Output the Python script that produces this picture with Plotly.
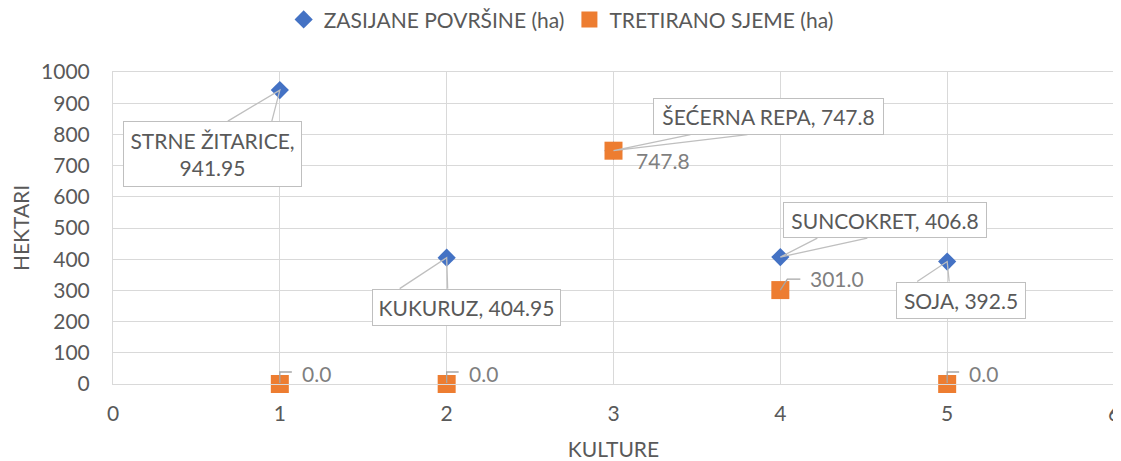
import plotly.graph_objects as go

# ---- data ----
categories = ["STRNE ŽITARICE", "KUKURUZ", "ŠEĆERNA REPA", "SUNCOKRET", "SOJA"]
x_vals = [1, 2, 3, 4, 5]
zasijane = [941.95, 404.95, 747.8, 406.8, 392.5]
tretirano = [0.0, 0.0, 747.8, 301.0, 0.0]
series_names = ["ZASIJANE POVRŠINE (ha)", "TRETIRANO SJEME (ha)"]
x_ticks = [0, 1, 2, 3, 4, 5, 6]
y_ticks = [0, 100, 200, 300, 400, 500, 600, 700, 800, 900, 1000]

# ---- style ----
FONT = "Lato"
TXT = "#595959"
LBL = "#7f7f7f"
GRID = "#d9d9d9"
CALL = "#bfbfbf"
BLUE = "#4472C4"
ORANGE = "#ED7D31"
FS = 21

# callout box geometry (pixel offsets from point: center dx, dy(down), w, h, wrap)
callout_geom = [
    (-67.5, 64, 179, 66, True),
    (19.5, 49.5, 189, 37, False),
    (154.5, -34.5, 231, 37, False),
    (105, -37, 204, 36, False),
    (14, 38.5, 130, 37, False),
]
# wedge base points (screen offsets, y down)
wedges = [
    ((-52, 31), (-8, 31)),
    ((-47, 31), (1, 31)),
    ((77, -16), (134, -16)),
    ((37, -19), (87, -19)),
    ((-30, 20), (2, 20)),
]
# data-label placement for second series: (text dx, text dy(down), leader points)
label_geom = [
    (20, -11, [(0, -1), (0, -12), (12, -12)]),
    (20, -11, [(0, -1), (0, -12), (12, -12)]),
    (20, 10, None),
    (28, -12, [(0, 0), (7, -11), (20, -11)]),
    (20, -11, [(0, -1), (0, -12), (12, -12)]),
]

fig = go.Figure()
fig.add_trace(go.Scatter(
    x=x_vals, y=zasijane, mode="markers", name=series_names[0],
    marker=dict(symbol="diamond", size=14, color=BLUE), cliponaxis=False,
))
fig.add_trace(go.Scatter(
    x=x_vals, y=tretirano, mode="markers", name=series_names[1],
    marker=dict(symbol="square", size=18, color=ORANGE), cliponaxis=False,
))

shapes = []
annotations = []


def path_from(points):
    parts = []
    for i, (px, py) in enumerate(points):
        parts.append(("M" if i == 0 else "L") + f"{px},{-py}")
    return " ".join(parts)


for i, (cat, xv, v) in enumerate(zip(categories, x_vals, zasijane)):
    dx, dy, w, h, wrap = callout_geom[i]
    (ax1, ay1), (ax2, ay2) = wedges[i]
    shapes.append(dict(
        type="path", xref="x", yref="y", xsizemode="pixel", ysizemode="pixel",
        xanchor=xv, yanchor=v, path=path_from([(ax1, ay1), (0, 0), (ax2, ay2)]),
        line=dict(color=CALL, width=1.3), layer="above",
    ))
    sep = ",<br>" if wrap else ", "
    annotations.append(dict(
        x=xv, y=v, xref="x", yref="y", text=f"{cat}{sep}{v:g}",
        showarrow=False, xshift=dx, yshift=-dy, width=w - 2, height=h - 2,
        bgcolor="white", bordercolor=CALL, borderwidth=1, borderpad=0,
        font=dict(family=FONT, size=FS, color=TXT), align="center",
        xanchor="center", yanchor="middle",
    ))

for i, (xv, v) in enumerate(zip(x_vals, tretirano)):
    tdx, tdy, leader = label_geom[i]
    if leader:
        shapes.append(dict(
            type="path", xref="x", yref="y", xsizemode="pixel", ysizemode="pixel",
            xanchor=xv, yanchor=v, path=path_from(leader),
            line=dict(color="#a6a6a6", width=1.3), layer="above",
        ))
    annotations.append(dict(
        x=xv, y=v, xref="x", yref="y", text=f"{v:.1f}", showarrow=False,
        xshift=tdx, yshift=-tdy, xanchor="left", yanchor="middle",
        font=dict(family=FONT, size=FS, color=LBL),
    ))

# page body has an 8px margin, so the figure is sized/placed to compensate
fig.update_layout(
    width=1113, height=453,
    margin=dict(l=105, r=7, t=64, b=77, autoexpand=False),
    paper_bgcolor="white", plot_bgcolor="white",
    font=dict(family=FONT, size=FS, color=TXT),
    showlegend=True,
    legend=dict(orientation="h", xref="container", yref="container",
                x=0.497, xanchor="center", y=0.974, yanchor="middle",
                font=dict(family=FONT, size=FS, color=TXT),
                itemwidth=30, tracegroupgap=0),
    shapes=shapes, annotations=annotations,
)
fig.update_xaxes(
    range=[0, 6], tickvals=x_ticks, ticktext=[str(t) for t in x_ticks],
    showgrid=True, gridcolor=GRID, gridwidth=1,
    showline=True, linecolor=GRID, linewidth=1, mirror=True,
    zeroline=False, ticks="outside", ticklen=11, tickcolor="rgba(0,0,0,0)",
    automargin=False,
    title=dict(text="KULTURE", standoff=25, font=dict(family=FONT, size=FS, color=TXT)),
    tickfont=dict(family=FONT, size=FS, color=TXT),
)
fig.update_yaxes(
    range=[0, 1000], tickvals=y_ticks, ticktext=[str(t) for t in y_ticks],
    showgrid=True, gridcolor=GRID, gridwidth=1,
    showline=True, linecolor=GRID, linewidth=1, mirror=True,
    zeroline=False, ticks="outside", ticklen=18, tickcolor="rgba(0,0,0,0)",
    automargin=False,
    title=dict(text="HEKTARI", standoff=10, font=dict(family=FONT, size=FS, color=TXT)),
    tickfont=dict(family=FONT, size=FS, color=TXT),
)

fig.write_html("out.html")
